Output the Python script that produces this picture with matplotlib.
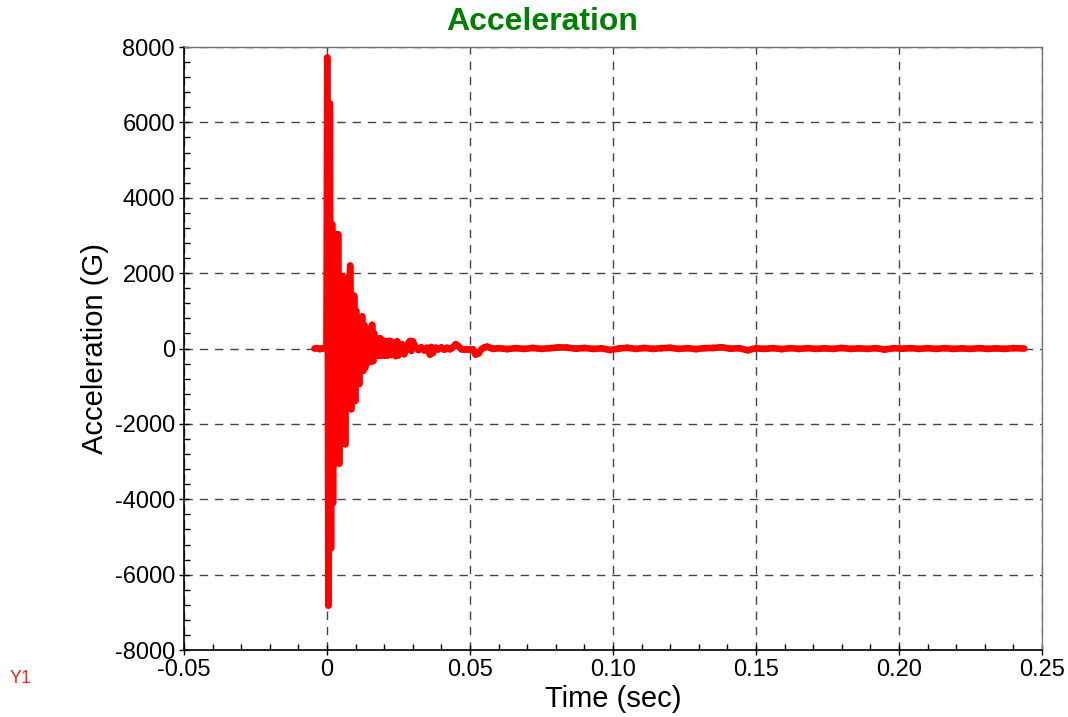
import numpy as np
import matplotlib
matplotlib.use("Agg")
import matplotlib.pyplot as plt
from matplotlib.ticker import MultipleLocator
from matplotlib.collections import LineCollection

plt.rcParams['font.family'] = ['Liberation Sans', 'DejaVu Sans']
plt.rcParams['axes.unicode_minus'] = False
plt.rcParams['path.simplify'] = False

# pre-trigger + first big spikes
t_onset = [-0.0044, -0.0035, -0.0025, -0.0015, -0.0006, -0.0002, 0.0001, 0.0005,
           0.0010, 0.0014, 0.0018, 0.0021]
a_onset = [0, 10, -15, 10, -5, 0, 7720, -6820, 6500, -5300, 3300, -4100]

t_ring = [0.0025, 0.0029, 0.0032, 0.0036, 0.0039, 0.0043, 0.0046, 0.0050, 0.0053, 0.0057,
          0.0060, 0.0064, 0.0067, 0.0071, 0.0074, 0.0078, 0.0081, 0.0085, 0.0088, 0.0092,
          0.0095, 0.0099, 0.0102, 0.0106, 0.0109, 0.0113, 0.0116, 0.0120, 0.0123, 0.0127,
          0.0130, 0.0134, 0.0137, 0.0141, 0.0144, 0.0148, 0.0151, 0.0155, 0.0158, 0.0162,
          0.0165, 0.0169, 0.0172, 0.0176, 0.0179, 0.0183, 0.0186, 0.0190, 0.0193, 0.0197,
          0.0200, 0.0204, 0.0207, 0.0211, 0.0214, 0.0218, 0.0221, 0.0225, 0.0228, 0.0232]
a_ring = [2750, -3050, 3030, -3000, 3030, -3050, 1900, -2540, 1920, -2500,
          1850, -2540, 1700, -1610, 1900, -1600, 2200, -1610, 1420, -1390,
          1400, -1390, 1000, -940, 800, -940, 750, -590, 850, -590,
          620, -500, 550, -360, 500, -360, 450, -350, 630, -330,
          400, -190, 270, -190, 250, -180, 270, -190, 220, -150,
          200, -190, 180, -190, 200, -150, 200, -170, 150, -120]

# decaying part
t_decay = [0.0235, 0.024, 0.0245, 0.025, 0.026, 0.027, 0.028, 0.029, 0.0295, 0.030,
           0.031, 0.032, 0.033, 0.034, 0.035, 0.036, 0.0365, 0.037, 0.038, 0.039,
           0.040, 0.041, 0.042, 0.043, 0.044, 0.045, 0.046, 0.047, 0.048, 0.049,
           0.050, 0.051, 0.052, 0.053, 0.054, 0.055, 0.056, 0.057, 0.058]
a_decay = [150, -200, 190, -180, 120, -150, 100, 200, -60, 190,
           40, -40, 30, -50, 20, -160, 40, -120, 20, -20,
           30, -30, 20, -20, 30, 115, 60, -20, -30, -20,
           -30, -20, -160, -130, -20, 30, 50, 20, -10]

# tail
t_tail = [0.060, 0.063, 0.066, 0.069, 0.072, 0.075, 0.078, 0.081, 0.084, 0.087,
          0.090, 0.093, 0.096, 0.099, 0.102, 0.105, 0.108, 0.111, 0.114, 0.117,
          0.120, 0.123, 0.126, 0.129, 0.132, 0.135, 0.138, 0.141, 0.144, 0.147,
          0.150, 0.153, 0.156, 0.159, 0.162, 0.165, 0.168, 0.171, 0.174, 0.177,
          0.180, 0.183, 0.186, 0.189, 0.192, 0.195, 0.198, 0.201, 0.204, 0.207,
          0.210, 0.213, 0.216, 0.219, 0.222, 0.225, 0.228, 0.231, 0.234, 0.237,
          0.240, 0.2438]
a_tail = [10, -15, 10, -10, 15, -10, 10, 30, 25, -5,
          15, -10, 5, -40, 0, 20, -10, 15, -10, 10,
          20, -10, 10, -15, 10, 15, 35, -5, 10, -45,
          5, -10, 10, -15, 10, -10, 10, -10, 5, -10,
          15, -10, 5, -10, 10, -30, 10, -5, 10, -10,
          10, -10, 10, -10, 5, -10, 10, -10, 5, -10,
          10, 0]

t = np.array(t_onset + t_ring + t_decay + t_tail)
acc = np.array(a_onset + a_ring + a_decay + a_tail)

fig = plt.figure(figsize=(10.68, 7.17), dpi=100)
ax = fig.add_axes([0.1723, 0.0934, 0.8034, 0.8410])

# the ringing is so dense it reads as a solid band: fill between its peaks
tr = np.array(t_onset[-2:] + t_ring)
ar = np.array(a_onset[-2:] + a_ring)
up = ar > 0
lo = ar < 0
ax.fill(np.r_[tr[up], tr[lo][::-1]], np.r_[ar[up], ar[lo][::-1]],
        color='#ff0000', lw=0, zorder=3)

# each segment stroked on its own so the dense zigzag renders solid
pts = np.column_stack([t, acc])
segs = np.stack([pts[:-1], pts[1:]], axis=1)
lc = LineCollection(segs, colors='#ff0000', linewidths=4.8, capstyle='round',
                    joinstyle='round', zorder=3)
ax.add_collection(lc)

ax.set_xlim(-0.05, 0.25)
ax.set_ylim(-8000, 8000)
ax.xaxis.set_minor_locator(MultipleLocator(0.01))
ax.yaxis.set_major_locator(MultipleLocator(2000))
ax.yaxis.set_minor_locator(MultipleLocator(400))
labels = ['-0.05', '0', '0.05', '0.10', '0.15', '0.20', '0.25']
ax.set_xticks([-0.05, 0, 0.05, 0.10, 0.15, 0.20, 0.25])
ax.set_xticklabels(labels)

ax.tick_params(which='major', direction='inout', length=7, width=1, labelsize=17, pad=3)
ax.tick_params(which='minor', direction='in', length=4, width=1)
ax.tick_params(top=False, right=False, which='both')

ax.grid(True, which='major', color='#444444', ls=(0, (6, 5)), lw=1.0)
for s in ['top', 'right']:
    ax.spines[s].set_color('#777777')
    ax.spines[s].set_linewidth(1.0)
for s in ['left', 'bottom']:
    ax.spines[s].set_linewidth(1.2)

ax.set_xlabel('Time (sec)', fontsize=21, labelpad=3)
ax.set_ylabel('Acceleration (G)', fontsize=21, labelpad=4)
fig.text(0.508, 0.969, 'Acceleration', color='#008000', fontsize=23, fontweight='bold',
         ha='center', va='center')
fig.text(0.009, 0.054, 'Y1', color='#ff2020', fontsize=13, ha='left', va='center')

fig.savefig('out.png', dpi=100)
